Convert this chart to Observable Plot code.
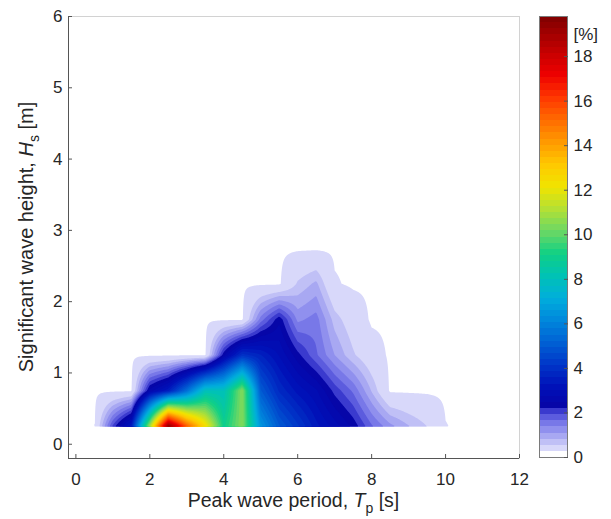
<!DOCTYPE html>
<html>
<head>
<meta charset="utf-8">
<script src="https://cdn.jsdelivr.net/npm/d3@7"></script>
<script src="https://cdn.jsdelivr.net/npm/@observablehq/plot@0.6"></script>
<style>
html, body { margin: 0; padding: 0; background: #fff; }
#wrap { position: relative; width: 611px; height: 519px; font-family: "Liberation Sans", Arial, sans-serif; }
#wrap svg { position: absolute; top: 0; }
</style>
</head>
<body>
<div id="wrap"></div>
<script>
// ---- Data: occurrence (%) on the Tp x Hs grid ----
const tp = [0.5, 1.0, 1.5, 2.0, 2.5, 3.0, 3.5, 4.0, 4.5, 5.0, 5.5, 6.0, 6.5, 7.0, 7.5, 8.0, 8.5, 9.0, 9.5, 10.0, 10.5];
const hs = [0.25, 0.75, 1.25, 1.75, 2.25, 2.75];
const occHs025 = [0, 2.0, 3.5, 11.0, 19.7, 15.5, 12.5, 9.0, 10.5, 6.5, 5.0, 4.2, 3.4, 2.9, 2.4, 1.7, 1.2, 0.85, 0.55, 0.06, 0];
const occHs075 = [0, 0, 0, 2.6, 3.5, 5.5, 8.0, 8.0, 10.5, 5.0, 3.8, 3.2, 2.8, 2.1, 1.6, 0.8, 0, 0, 0, 0, 0];
const occHs125 = [0, 0, 0, 0, 0, 0, 0, 2.4, 4.0, 3.6, 3.0, 2.3, 1.7, 1.1, 0.6, 0.22, 0, 0, 0, 0, 0];
const occHs175 = [0, 0, 0, 0, 0, 0, 0, 0, 0, 1.5, 2.4, 1.3, 1.5, 0.7, 0.3, 0, 0, 0, 0, 0, 0];
const occHs225 = [0, 0, 0, 0, 0, 0, 0, 0, 0, 0, 0, 0.6, 0.9, 0.08, 0, 0, 0, 0, 0, 0, 0];
const occHs275 = [0, 0, 0, 0, 0, 0, 0, 0, 0, 0, 0, 0, 0, 0, 0, 0, 0, 0, 0, 0, 0];
const occRows = [occHs025, occHs075, occHs125, occHs175, occHs225, occHs275];

// ---- Axes / colorbar ticks ----
const xTicks = [0, 2, 4, 6, 8, 10, 12];
const yTicks = [0, 1, 2, 3, 4, 5, 6];
const cbTicks = [0, 2, 4, 6, 8, 10, 12, 14, 16, 18];
const xDomain = [-0.2, 12];
const yDomain = [-0.2, 6];
const cbMax = 19.8;
const nColors = 72;
const levelStep = cbMax / nColors;

// contour levels: lowest contour, then one per colormap step
const levels = [0.05, ...d3.range(2, nColors).map(k => k * levelStep)];

// colormap: lavender ramp below ~2 %, jet-like above
const stopValues = [0.05, 0.55, 0.825, 1.1, 1.375, 1.65, 1.925, 2.2, 3, 4, 5, 6, 7, 8, 9, 10, 11, 12, 13, 14, 15, 16, 17, 18, cbMax];
const stopColors = ["#d8d8fa", "#c0c0f6", "#a8a8f2", "#9090ee", "#7878e8", "#5c5cde", "#3a3ace", "#0606a8",
  "#0010b8", "#0036c8", "#0060d4", "#0088dc", "#00aedc", "#00c2b4", "#10d084", "#6cd864", "#b4e034", "#f0e400",
  "#ffc800", "#ff9a00", "#ff6a00", "#ff3800", "#ee0000", "#c80000", "#780000"];
const cmap = d3.scaleLinear().domain(stopValues).range(stopColors).interpolate(d3.interpolateRgb).clamp(true);
const colorScale = {type: "threshold", domain: levels.slice(1), range: levels.map(cmap)};

// bilinear surface over the gridded table
function occ(x, y) {
  const i = Math.min(tp.length - 2, Math.max(0, d3.bisectRight(tp, x) - 1));
  const j = Math.min(hs.length - 2, Math.max(0, d3.bisectRight(hs, y) - 1));
  const fx = Math.max(0, Math.min(1, (x - tp[i]) / (tp[i + 1] - tp[i])));
  const fy = Math.max(0, Math.min(1, (y - hs[j]) / (hs[j + 1] - hs[j])));
  const a = occRows[j][i], b = occRows[j][i + 1], c = occRows[j + 1][i], d = occRows[j + 1][i + 1];
  return a * (1 - fx) * (1 - fy) + b * fx * (1 - fy) + c * (1 - fx) * fy + d * fx * fy;
}

const font = "'Liberation Sans', Arial, sans-serif";
const ink = "#262626";
const tickFont = 17;

const main = Plot.plot({
  width: 611, height: 519,
  marginLeft: 68, marginRight: 92, marginTop: 16, marginBottom: 61,
  x: {domain: xDomain},
  y: {domain: yDomain},
  color: colorScale,
  style: {fontFamily: font, fontSize: tickFont + "px", color: ink, background: "transparent"},
  marks: [
    Plot.contour({fill: occ, x1: tp[0], x2: tp[tp.length - 1], y1: hs[0], y2: hs[hs.length - 1], thresholds: levels, stroke: "none", pixelSize: 1}),
    Plot.frame({stroke: "#d2d2d2"}),
    Plot.ruleX([xDomain[0]], {stroke: "#555"}),
    Plot.ruleY([yDomain[0]], {stroke: "#555"}),
    Plot.axisX(xTicks, {anchor: "bottom", tickSize: -4, tickPadding: 18, label: null, tickFormat: d => d, stroke: "#555", fill: ink}),
    Plot.axisY(yTicks, {anchor: "left", tickSize: -4, tickPadding: 10, label: null, tickFormat: d => d, stroke: "#555", fill: ink})
  ]
});

const cbBands = levels.map((t, i) => ({lo: i === 0 ? levelStep : t, hi: i + 1 < levels.length ? levels[i + 1] : cbMax, v: t}));

const cbar = Plot.plot({
  width: 81, height: 519,
  marginLeft: 9, marginRight: 44, marginTop: 16, marginBottom: 62,
  x: {domain: [0, 1], axis: null},
  y: {domain: [0, cbMax]},
  color: colorScale,
  style: {fontFamily: font, fontSize: tickFont + "px", color: ink, background: "transparent"},
  marks: [
    Plot.rect(cbBands, {y1: "lo", y2: "hi", fill: "v", shapeRendering: "crispEdges"}),
    Plot.frame({stroke: "#7a7a7a"}),
    Plot.axisY(cbTicks, {anchor: "right", tickSize: -4, tickPadding: 10, label: null, tickFormat: d => d, stroke: "#555", fill: ink}),
    Plot.text(["[%]"], {frameAnchor: "top-right", textAnchor: "start", dx: 6, dy: 11, fill: ink, fontSize: tickFont})
  ]
});

const wrap = document.getElementById("wrap");
main.style.left = "0px";
cbar.style.left = "530px";
wrap.appendChild(main);
wrap.appendChild(cbar);

// axis titles with italic symbols and subscripts
const svg = d3.select(main);
const xt = svg.append("text").attr("x", (68 + 519) / 2).attr("y", 507)
  .attr("text-anchor", "middle").attr("font-family", font).attr("font-size", 19.5).attr("fill", ink);
xt.append("tspan").text("Peak wave period, ");
xt.append("tspan").attr("font-style", "italic").text("T");
xt.append("tspan").attr("font-size", 14).attr("dy", 6).text("p");
xt.append("tspan").attr("dy", -6).text(" [s]");

const yt = svg.append("text").attr("transform", `translate(33,${(16 + 458) / 2}) rotate(-90)`)
  .attr("text-anchor", "middle").attr("font-family", font).attr("font-size", 20).attr("fill", ink);
yt.append("tspan").text("Significant wave height, ");
yt.append("tspan").attr("font-style", "italic").text("H");
yt.append("tspan").attr("font-size", 14).attr("dy", 6).text("s");
yt.append("tspan").attr("dy", -6).text(" [m]");
</script>
</body>
</html>
